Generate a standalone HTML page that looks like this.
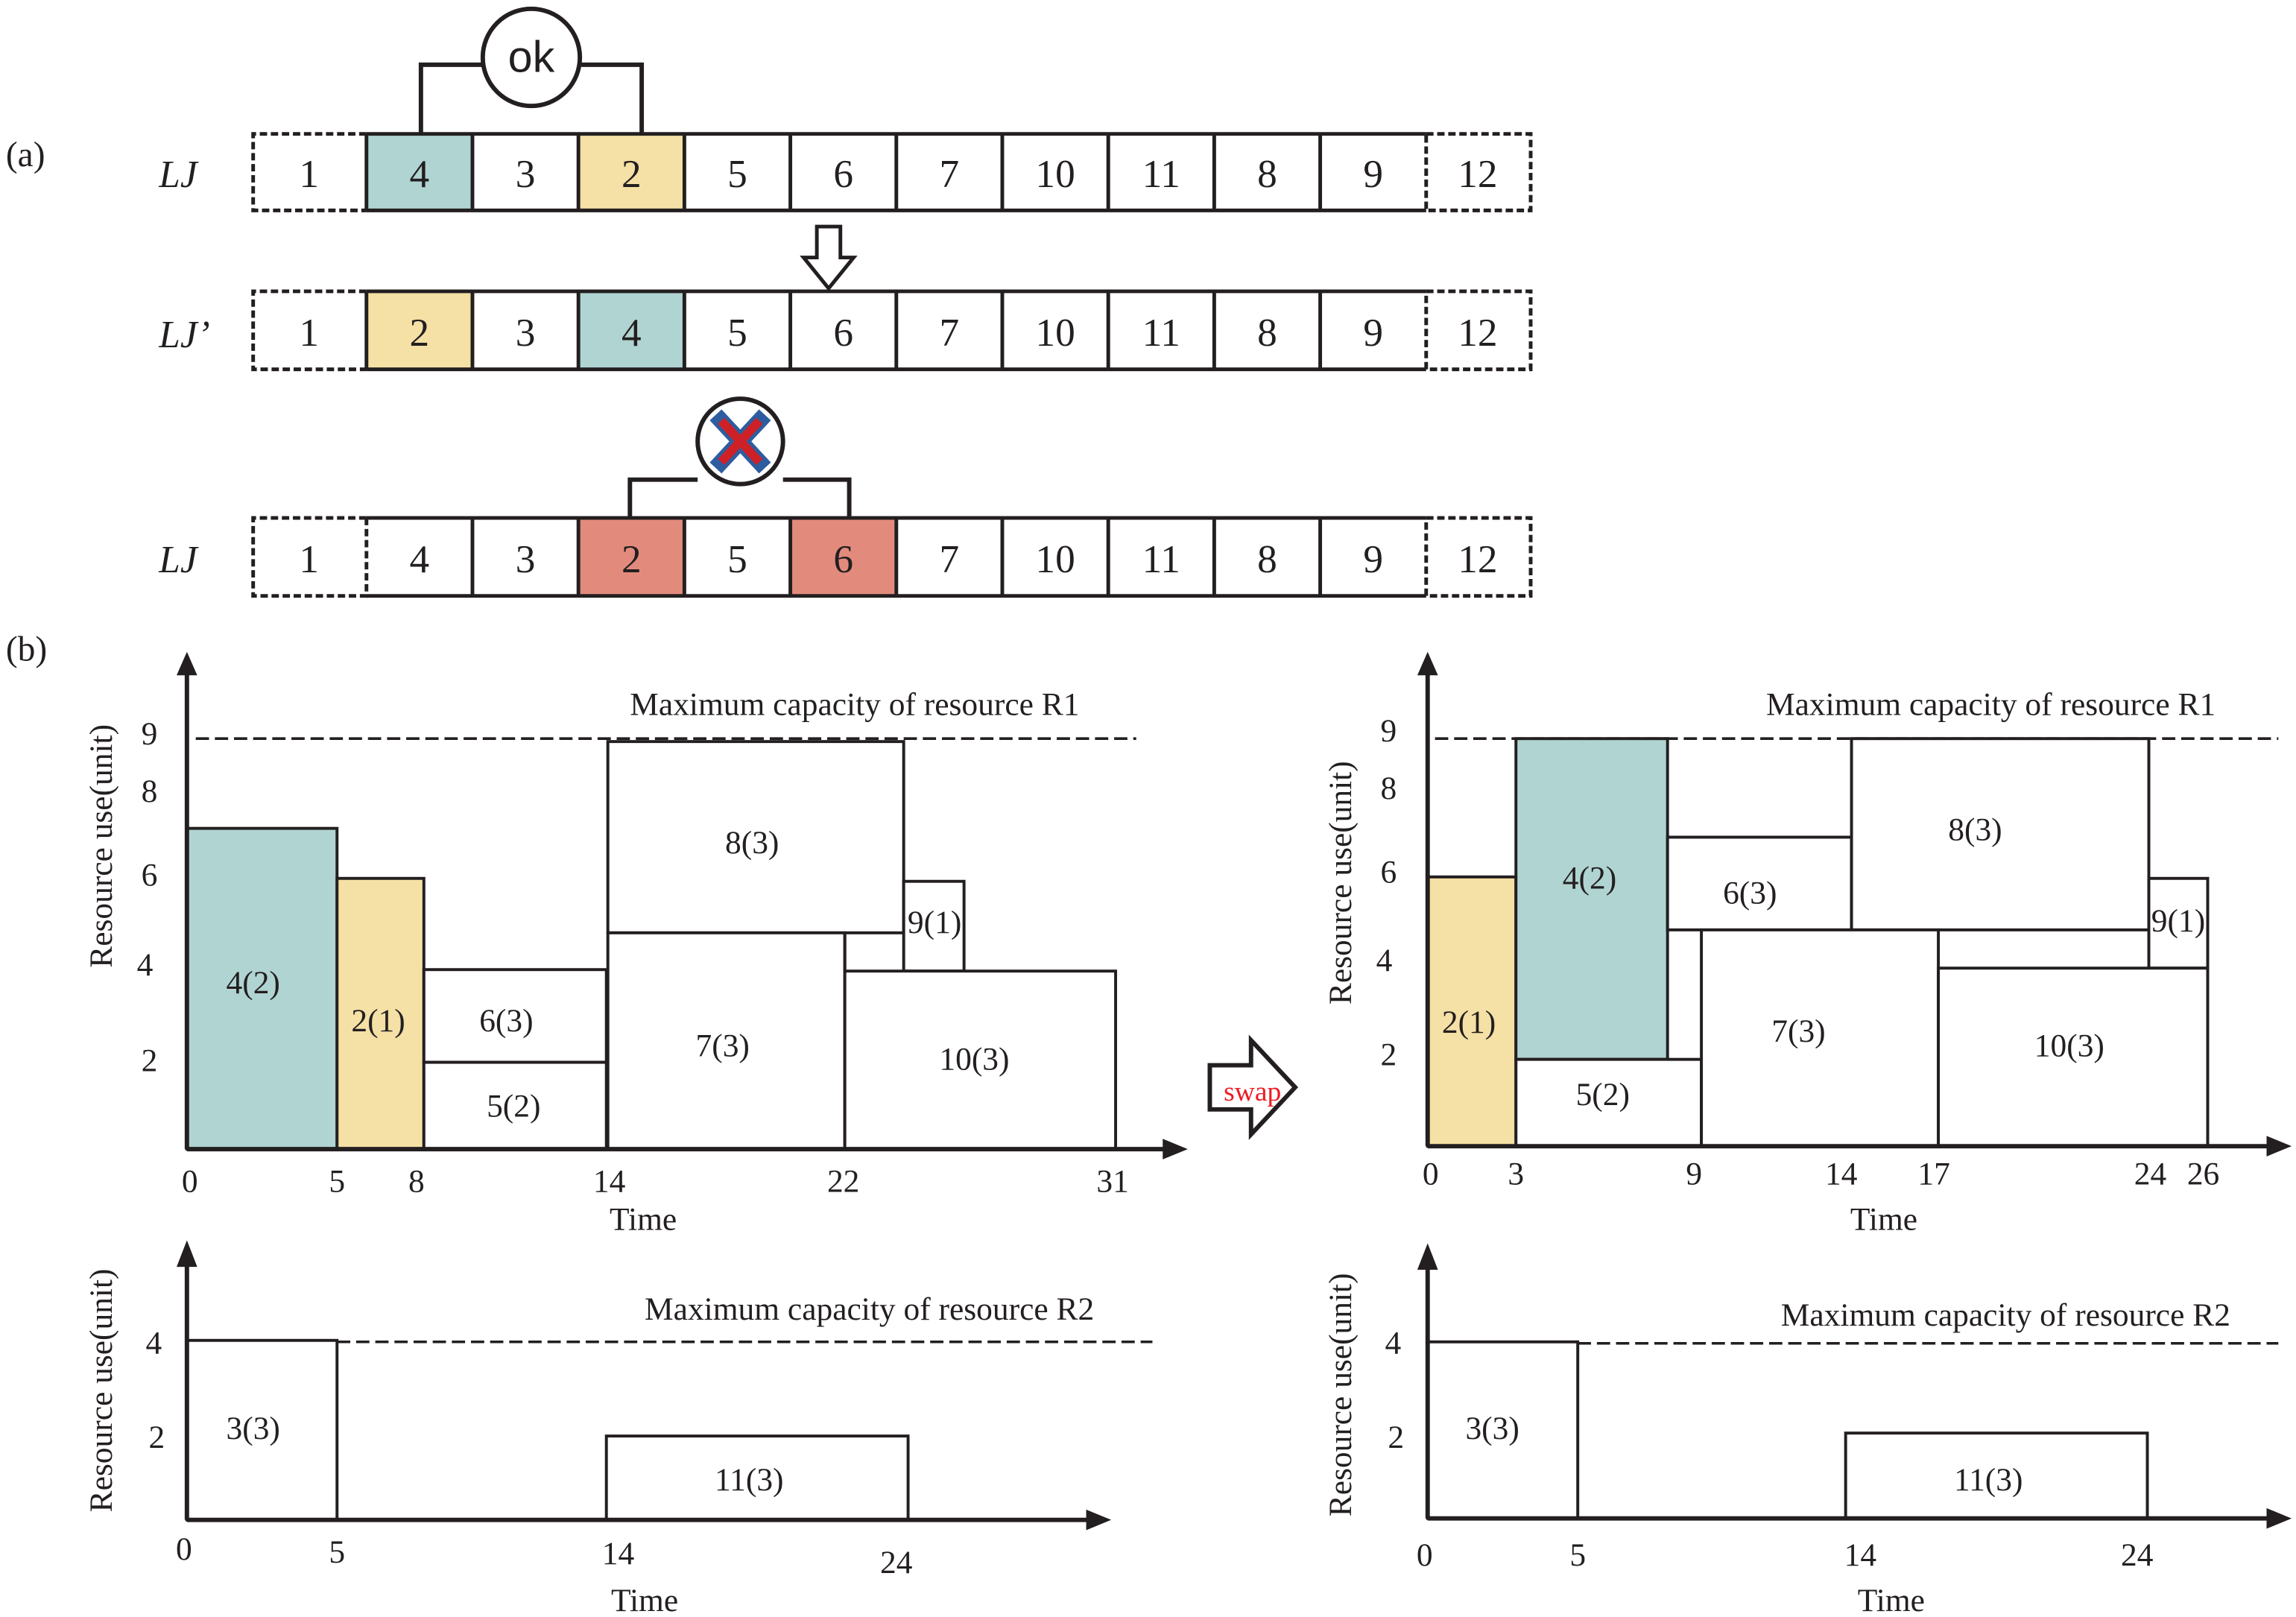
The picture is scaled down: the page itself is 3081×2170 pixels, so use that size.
<!DOCTYPE html>
<html><head><meta charset="utf-8"><style>html,body{margin:0;padding:0;background:#fff}svg{display:block}</style></head>
<body>
<svg width="3081" height="2170" viewBox="0 0 1560 1099" preserveAspectRatio="none" xmlns="http://www.w3.org/2000/svg" font-family="Liberation Serif, serif" fill="none" stroke="#231f20">
<!-- (a) -->
<text x="4" y="113" font-size="24" fill="#231f20" stroke="none">(a)</text>
<g font-size="26" fill="#231f20" stroke="none" font-style="italic">
<text x="108" y="127">LJ</text><text x="108" y="236">LJ’</text><text x="108" y="389">LJ</text>
</g>
<!-- rows -->
<g id="rows">
<!-- row1 -->
<rect x="249" y="91" width="72" height="52" fill="#b0d4d2" stroke="none"/>
<rect x="393" y="91" width="72" height="52" fill="#f5e0a5" stroke="none"/>
<rect x="249" y="198" width="72" height="53" fill="#f5e0a5" stroke="none"/>
<rect x="393" y="198" width="72" height="53" fill="#b0d4d2" stroke="none"/>
<rect x="393" y="352" width="72" height="53" fill="#e28b7d" stroke="none"/>
<rect x="537" y="352" width="72" height="53" fill="#e28b7d" stroke="none"/>
</g>
<g stroke-width="2">
<!-- row frames -->
<path d="M249 91H969M249 143H969M249 91V143M321 91V143M393 91V143M465 91V143M537 91V143M609 91V143M681 91V143M753 91V143M825 91V143M897 91V143" stroke-width="2.5"/>
<path d="M249 91H172V143H249M969 91H1040V143H969V91" stroke-dasharray="5 2.5" stroke-width="2.5"/>
<path d="M249 198H969M249 251H969M249 198V251M321 198V251M393 198V251M465 198V251M537 198V251M609 198V251M681 198V251M753 198V251M825 198V251M897 198V251" stroke-width="2.5"/>
<path d="M249 198H172V251H249M969 198H1040V251H969V198" stroke-dasharray="5 2.5" stroke-width="2.5"/>
<path d="M249 352H969M249 405H969M321 352V405M393 352V405M465 352V405M537 352V405M609 352V405M681 352V405M753 352V405M825 352V405M897 352V405" stroke-width="2.5"/>
<path d="M249 352H172V405H249V352M969 352H1040V405H969V352" stroke-dasharray="5 2.5" stroke-width="2.5"/>
</g>
<g font-size="27" fill="#231f20" stroke="none" text-anchor="middle">
<text x="210" y="127">1</text><text x="285" y="127">4</text><text x="357" y="127">3</text><text x="429" y="127">2</text><text x="501" y="127">5</text><text x="573" y="127">6</text><text x="645" y="127">7</text><text x="717" y="127">10</text><text x="789" y="127">11</text><text x="861" y="127">8</text><text x="933" y="127">9</text><text x="1004" y="127">12</text>
<text x="210" y="235">1</text><text x="285" y="235">2</text><text x="357" y="235">3</text><text x="429" y="235">4</text><text x="501" y="235">5</text><text x="573" y="235">6</text><text x="645" y="235">7</text><text x="717" y="235">10</text><text x="789" y="235">11</text><text x="861" y="235">8</text><text x="933" y="235">9</text><text x="1004" y="235">12</text>
<text x="210" y="389">1</text><text x="285" y="389">4</text><text x="357" y="389">3</text><text x="429" y="389">2</text><text x="501" y="389">5</text><text x="573" y="389">6</text><text x="645" y="389">7</text><text x="717" y="389">10</text><text x="789" y="389">11</text><text x="861" y="389">8</text><text x="933" y="389">9</text><text x="1004" y="389">12</text>
</g>
<!-- ok bracket -->
<path d="M286 91V44H328M395 44H436V91" stroke-width="3"/>
<circle cx="361" cy="39" r="33" fill="#fff" stroke-width="3"/>
<text x="361" y="49" font-family="Liberation Sans, sans-serif" font-size="30" text-anchor="middle" fill="#231f20" stroke="none">ok</text>
<!-- down arrow -->
<path d="M555 154H571V175H580L563 196L546 175H555Z" fill="#fff" stroke-width="2.5"/>
<!-- X bracket -->
<path d="M428 352V326H474M532 326H577V352" stroke-width="3"/>
<circle cx="503" cy="300" r="29" fill="#fff" stroke-width="3"/>
<path d="M490 286L516 314M516 286L490 314" stroke="#2d5d9f" stroke-width="11" stroke-linecap="square"/>
<path d="M490 286L516 314M516 286L490 314" stroke="#cd2127" stroke-width="6"/>
<!-- (b) -->
<text x="4" y="449" font-size="24" fill="#231f20" stroke="none">(b)</text>

<!-- Left R1 chart -->
<rect x="127" y="563" width="102" height="218" fill="#b0d4d2" stroke-width="2"/>
<rect x="229" y="597" width="59" height="184" fill="#f5e0a5" stroke-width="2"/>
<g stroke-width="2" fill="#fff">
<rect x="288" y="659" width="124" height="63"/>
<rect x="288" y="722" width="124" height="59"/>
<rect x="413" y="504" width="201" height="130"/>
<rect x="413" y="634" width="161" height="147"/>
<rect x="614" y="599" width="41" height="61"/>
<rect x="574" y="660" width="184" height="121"/>
</g>
<path d="M574 634V660" stroke-width="2"/>
<path d="M133 502H772" stroke-dasharray="9 4" stroke-width="1.8"/>
<path d="M127 781V455M127 781H792" stroke-width="3"/>
<path d="M120 459L127 443L134 459Z M790 774L807 781L790 788Z" fill="#231f20" stroke="none"/>
<g font-size="22" fill="#231f20" stroke="none">
<text x="428" y="486">Maximum capacity of resource R1</text>
<text x="96" y="506">9</text><text x="96" y="545">8</text><text x="96" y="602">6</text><text x="93" y="663">4</text><text x="96" y="728">2</text>
<g text-anchor="middle">
<text x="129" y="810">0</text><text x="229" y="810">5</text><text x="283" y="810">8</text><text x="414" y="810">14</text><text x="573" y="810">22</text><text x="756" y="810">31</text>
<text x="437" y="836">Time</text>
<text x="172" y="675">4(2)</text><text x="257" y="701">2(1)</text><text x="344" y="701">6(3)</text><text x="349" y="759">5(2)</text><text x="511" y="580">8(3)</text><text x="491" y="718">7(3)</text><text x="635" y="634">9(1)</text><text x="662" y="727">10(3)</text>
</g>
<text transform="translate(76 575) rotate(-90)" text-anchor="middle">Resource use(unit)</text>
</g>

<!-- Left R2 -->
<g stroke-width="2" fill="#fff">
<rect x="127" y="911" width="102" height="122"/>
<rect x="412" y="976" width="205" height="57"/>
</g>
<path d="M229 912H783" stroke-dasharray="9 4" stroke-width="1.8"/>
<path d="M127 1033V857M127 1033H740" stroke-width="3"/>
<path d="M120 861L127 843L134 861Z M738 1026L755 1033L738 1040Z" fill="#231f20" stroke="none"/>
<g font-size="22" fill="#231f20" stroke="none">
<text x="438" y="897">Maximum capacity of resource R2</text>
<text x="99" y="920">4</text><text x="101" y="984">2</text>
<g text-anchor="middle">
<text x="125" y="1060">0</text><text x="229" y="1062">5</text><text x="420" y="1063">14</text><text x="609" y="1069">24</text>
<text x="438" y="1095">Time</text>
<text x="172" y="978">3(3)</text><text x="509" y="1013">11(3)</text>
</g>
<text transform="translate(76 945) rotate(-90)" text-anchor="middle">Resource use(unit)</text>
</g>

<!-- swap arrow -->
<path d="M822 724H850V707L880 739L850 771V754H822Z" fill="#fff" stroke-width="3"/>
<text x="851" y="748" font-size="19" fill="#ed1c24" stroke="none" text-anchor="middle">swap</text>

<!-- Right R1 -->
<rect x="970" y="596" width="60" height="183" fill="#f5e0a5" stroke-width="2"/>
<rect x="1030" y="502" width="103" height="218" fill="#b0d4d2" stroke-width="2"/>
<g stroke-width="2" fill="#fff">
<rect x="1030" y="720" width="126" height="59"/>
<rect x="1133" y="569" width="125" height="63"/>
<rect x="1258" y="502" width="202" height="130"/>
<rect x="1156" y="632" width="161" height="147"/>
<rect x="1460" y="597" width="40" height="61"/>
<rect x="1317" y="658" width="183" height="121"/>
</g>
<path d="M975 502H1548" stroke-dasharray="9 4" stroke-width="1.8"/>
<path d="M970 779V455M970 779H1542" stroke-width="3"/>
<path d="M963 459L970 443L977 459Z M1540 772L1557 779L1540 786Z" fill="#231f20" stroke="none"/>
<g font-size="22" fill="#231f20" stroke="none">
<text x="1200" y="486">Maximum capacity of resource R1</text>
<text x="938" y="504">9</text><text x="938" y="543">8</text><text x="938" y="600">6</text><text x="935" y="660">4</text><text x="938" y="724">2</text>
<g text-anchor="middle">
<text x="972" y="805">0</text><text x="1030" y="805">3</text><text x="1151" y="805">9</text><text x="1251" y="805">14</text><text x="1314" y="805">17</text><text x="1461" y="805">24</text><text x="1497" y="805">26</text>
<text x="1280" y="836">Time</text>
<text x="998" y="702">2(1)</text><text x="1080" y="604">4(2)</text><text x="1089" y="751">5(2)</text><text x="1189" y="614">6(3)</text><text x="1342" y="571">8(3)</text><text x="1222" y="708">7(3)</text><text x="1480" y="633">9(1)</text><text x="1406" y="718">10(3)</text>
</g>
<text transform="translate(918 600) rotate(-90)" text-anchor="middle">Resource use(unit)</text>
</g>

<!-- Right R2 -->
<g stroke-width="2" fill="#fff">
<rect x="970" y="912" width="102" height="120"/>
<rect x="1254" y="974" width="205" height="58"/>
</g>
<path d="M1072 913H1548" stroke-dasharray="9 4" stroke-width="1.8"/>
<path d="M970 1032V859M970 1032H1542" stroke-width="3"/>
<path d="M963 863L970 845L977 863Z M1540 1025L1557 1032L1540 1039Z" fill="#231f20" stroke="none"/>
<g font-size="22" fill="#231f20" stroke="none">
<text x="1210" y="901">Maximum capacity of resource R2</text>
<text x="941" y="920">4</text><text x="943" y="984">2</text>
<g text-anchor="middle">
<text x="968" y="1064">0</text><text x="1072" y="1064">5</text><text x="1264" y="1064">14</text><text x="1452" y="1064">24</text>
<text x="1285" y="1095">Time</text>
<text x="1014" y="978">3(3)</text><text x="1351" y="1013">11(3)</text>
</g>
<text transform="translate(918 948) rotate(-90)" text-anchor="middle">Resource use(unit)</text>
</g>
</svg>
</body></html>
